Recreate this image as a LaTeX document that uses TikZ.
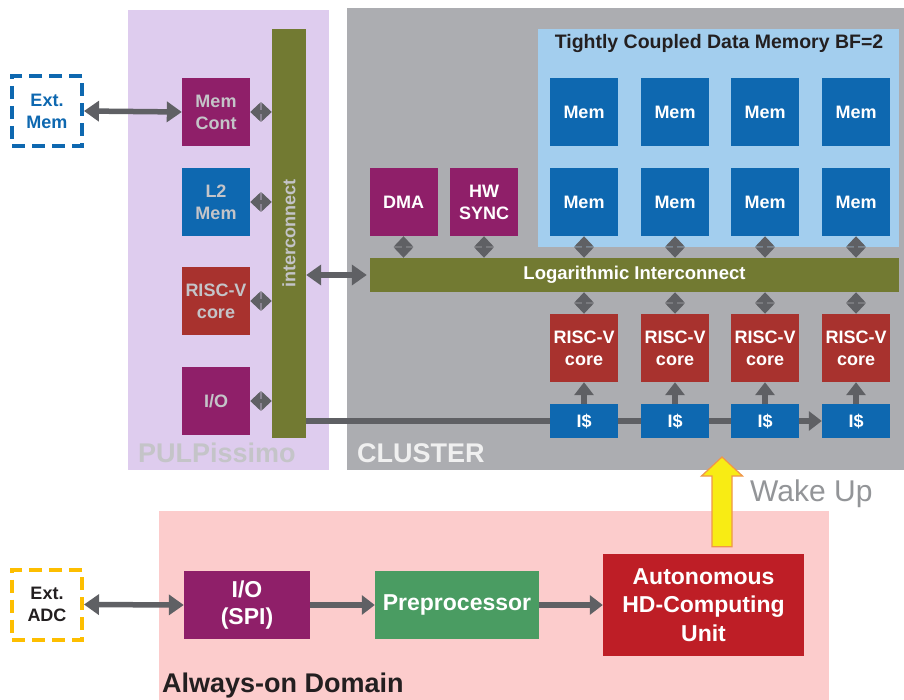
\documentclass[tikz,border=0pt]{standalone}
\usepackage{fontspec}
\setmainfont{Liberation Sans}
\usepackage{tikz}
\usetikzlibrary{arrows.meta,calc}

\begin{document}
\begin{tikzpicture}[x=1pt,y=-1pt,
  blk/.style={minimum width=68pt,minimum height=68pt,inner sep=0pt,align=center,
    font=\bfseries\fontsize{18}{22}\selectfont,text=white},
  link/.style={line width=4pt,draw=agray,
    {Triangle[length=10.5pt,width=19pt]}-{Triangle[length=10.5pt,width=19pt]}},
  bus/.style={line width=5.5pt,draw=agray},
  both/.style={bus,{Triangle[length=15pt,width=20pt]}-{Triangle[length=15pt,width=20pt]}},
  fwd/.style={bus,-{Triangle[length=13pt,width=19pt]}},
  ext/.style={minimum width=70pt,minimum height=70pt,inner sep=0pt,line width=4pt,
    dash pattern=on 13pt off 7pt,align=center,font=\bfseries\fontsize{18}{22}\selectfont},
  tag/.style={anchor=base west,inner sep=0pt,font=\bfseries\fontsize{27}{27}\selectfont}]
  \definecolor{lav}{RGB}{222,204,238}
  \definecolor{cgray}{RGB}{172,173,177}
  \definecolor{tcdm}{RGB}{163,206,238}
  \definecolor{mblue}{RGB}{14,104,176}
  \definecolor{ppurple}{RGB}{143,31,105}
  \definecolor{olive}{RGB}{114,122,50}
  \definecolor{cred}{RGB}{168,50,46}
  \definecolor{pink}{RGB}{252,204,204}
  \definecolor{pgreen}{RGB}{74,156,98}
  \definecolor{hdred}{RGB}{190,30,38}
  \definecolor{agray}{RGB}{95,96,100}
  \definecolor{ltext}{RGB}{196,196,200}
  \definecolor{dtext}{RGB}{35,31,32}
  \definecolor{adc}{RGB}{253,190,0}
  \definecolor{wyellow}{RGB}{248,236,20}
  \definecolor{worange}{RGB}{240,150,74}
  \definecolor{wtext}{RGB}{147,149,152}
  \fill[white] (0,0) rectangle (904,700);
  \useasboundingbox (0,0) rectangle (904,700);
  % domains
  \fill[lav] (128,10) rectangle (329,470);
  \fill[cgray] (347,8) rectangle (904,470);
  \fill[tcdm] (538,29) rectangle (899,247);
  \fill[pink] (159,511) rectangle (829,700);
  \node[tag,text=ltext] (pulpname) at (138,462) {PULPissimo};
  \node[tag,text=white!94!black] (clname) at (357,462) {CLUSTER};
  \node[tag,text=dtext] (aonname) at (162,692) {Always-on Domain};
  \node[font=\bfseries\fontsize{19.5}{20}\selectfont,text=dtext] (tcdmname) at (719,44)
    {Tightly Coupled Data Memory BF=2};
  % pulpissimo
  \node[fill=olive,minimum width=34pt,minimum height=409pt,inner sep=0pt,text=ltext,
    font=\bfseries\fontsize{18}{22}\selectfont] (pic) at (289,233.5) {\rotatebox{90}{interconnect}};
  \foreach \n/\y/\c/\t in {memcont/112/ppurple/{Mem\\Cont}, l2/202/mblue/{L2\\Mem},
      pcore/301/cred/{RISC-V\\core}, pio/401/ppurple/{I/O}} {
    \node[blk,fill=\c,text=ltext] (\n) at (216,\y) {\t};
    \draw[link] (\n.east) -- (\n.east -| pic.west);
  }
  \node[ext,draw=mblue,text=mblue] (extmem) at (47,111) {Ext.\\Mem};
  \draw[both] (extmem.east) -- (memcont.west);
  % cluster
  \node[fill=olive,minimum width=529pt,minimum height=34pt,inner sep=0pt,text=white,
    font=\bfseries\fontsize{18.5}{22}\selectfont] (logic) at (634.5,275) {Logarithmic Interconnect};
  \node[blk,fill=ppurple] (dma) at (403.5,202) {DMA};
  \node[blk,fill=ppurple] (hws) at (484,202) {HW\\SYNC};
  \foreach \x [count=\i] in {584,675,765,856} {
    \node[blk,fill=mblue] (mema\i) at (\x,112) {Mem};
    \node[blk,fill=mblue] (memb\i) at (\x,202) {Mem};
    \node[blk,fill=cred] (core\i) at (\x,348) {RISC-V\\core};
    \node[blk,fill=mblue,minimum height=34pt] (ic\i) at (\x,421) {I\$};
    \draw[link] (memb\i.south) -- (memb\i.south |- logic.north);
    \draw[link] (core\i.north) -- (core\i.north |- logic.south);
    \draw[fwd] (ic\i.north) -- (core\i.south);
  }
  \foreach \n in {dma,hws} \draw[link] (\n.south) -- (\n.south |- logic.north);
  \draw[both] (pic.east |- logic.west) -- ([xshift=-3pt]logic.west);
  % instruction path
  \draw[bus] (pic.east |- ic1.west) -- (ic1.west);
  \draw[bus] (ic1.east) -- (ic2.west);
  \draw[bus] (ic2.east) -- (ic3.west);
  \draw[fwd] (ic3.east) -- (ic4.west);
  % always-on domain
  \node[ext,draw=adc,text=dtext] (extadc) at (47,604.5) {Ext.\\ADC};
  \node[blk,fill=ppurple,minimum width=126pt,font=\bfseries\fontsize{23}{27}\selectfont] (spi) at (247,605) {I/O\\(SPI)};
  \node[blk,fill=pgreen,minimum width=164pt,font=\bfseries\fontsize{23}{27}\selectfont] (pre) at (457,605) {Preprocessor};
  \node[blk,fill=hdred,minimum width=201pt,minimum height=102pt,font=\bfseries\fontsize{23}{28.5}\selectfont] (hd) at (703.5,605)
    {Autonomous\\HD-Computing\\Unit};
  \draw[both] (extadc.east) -- (spi.west);
  \draw[fwd] (spi.east) -- (pre.west);
  \draw[fwd] (pre.east) -- (hd.west);
  % wake up
  \coordinate (wbase) at ($(hd.north)+(18.5,-7)$);
  \coordinate (wtip) at (722,457);
  \draw[worange,fill=wyellow,line width=1.2pt] ($(wbase)+(-10,0)$) -- ($(wtip)+(-10,19)$)
    -- ($(wtip)+(-20.5,19)$) -- (wtip) -- ($(wtip)+(20.5,19)$) -- ($(wtip)+(10,19)$)
    -- ($(wbase)+(10,0)$) -- cycle;
  \node[anchor=base west,inner sep=0pt,text=wtext,font=\fontsize{30}{30}\selectfont] (wake) at (750,501.7) {Wake Up};
\end{tikzpicture}
\end{document}
